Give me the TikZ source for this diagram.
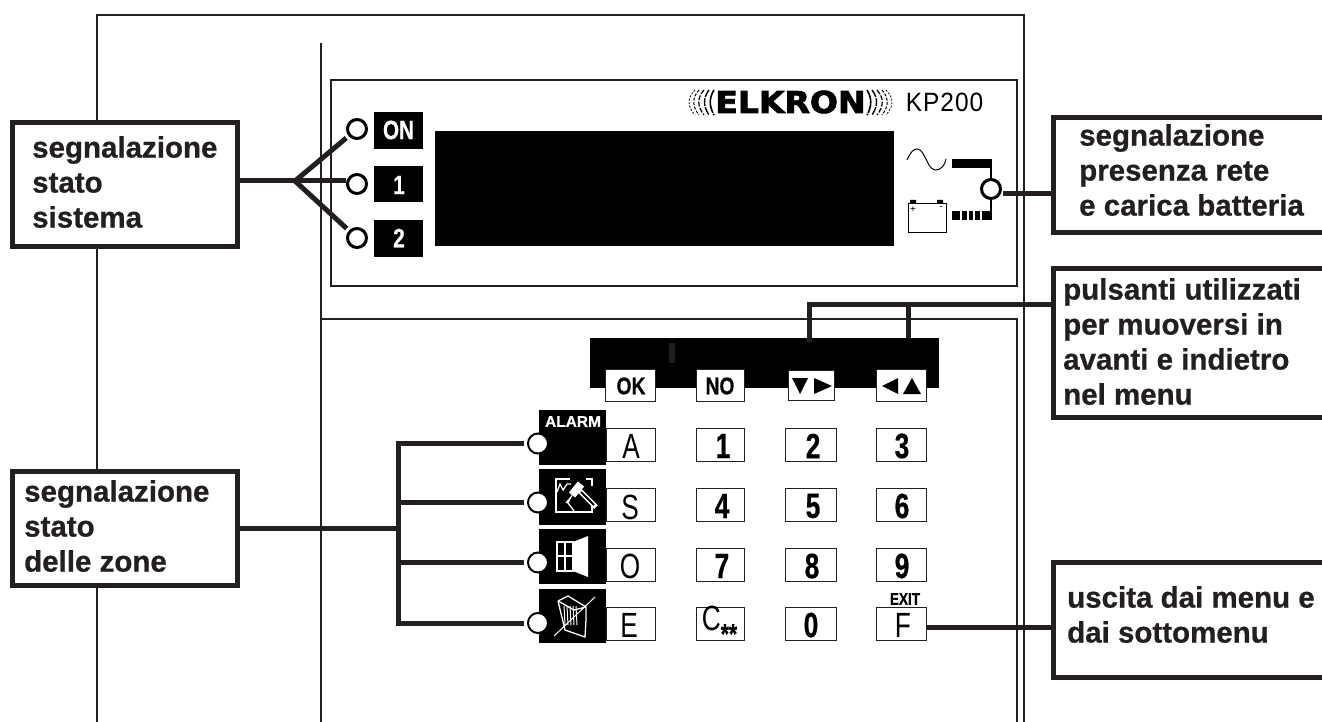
\documentclass[tikz,border=0pt]{standalone}
\usepackage{fontspec}
\setmainfont[BoldFeatures={FakeBold=0.7}]{Liberation Sans}
\newfontfamily\logofont[BoldFeatures={FakeBold=2.6}]{DejaVu Sans}
\newfontfamily\modelfont[LetterSpace=4]{Liberation Sans}
\definecolor{ink}{HTML}{231F20}
\tikzset{
  frameline/.style={ink,line width=1.5pt},
  wire/.style={ink,line width=5pt},
  callbox/.style={draw=ink,fill=white,line width=5pt,inner sep=0pt},
  openbox/.style={fill=white,inner sep=0pt,outer sep=0pt},
  calltext/.style={ink,font=\fontsize{29.5}{35}\selectfont\bfseries,align=left,anchor=north west,inner sep=0pt},
  statled/.style={circle,draw=black,fill=white,line width=3pt,minimum size=19pt,inner sep=0pt},
  zoneled/.style={circle,draw=black,fill=white,line width=2pt,minimum size=20pt,inner sep=0pt},
  blackbox/.style={fill=black,inner sep=0pt,outer sep=0pt},
  keybox/.style={draw=ink,fill=white,line width=1.5pt,inner sep=0pt},
  keybold/.style={black,font=\fontsize{35}{35}\selectfont\bfseries,inner sep=0pt,xscale=.75,transform shape},
  keyplain/.style={black,font=\fontsize{35}{35}\selectfont,inner sep=0pt,xscale=.75,transform shape},
  softlabel/.style={black,font=\fontsize{24}{24}\selectfont\bfseries,inner sep=0pt,xscale=.8,transform shape},
  whitelabel/.style={white,font=\fontsize{26.5}{26.5}\selectfont\bfseries,inner sep=0pt,xscale=.78,transform shape},
  iconline/.style={white,line width=1.3pt}
}
\begin{document}
\begin{tikzpicture}[x=1pt,y=-1pt]
  \newcommand{\keycap}[5]{\node[keybox,minimum width=#4,minimum height=#5] (#1) at (#2,#3) {};}
  \newcommand{\ripple}[4]{\draw[black,line width=#3,dash pattern=#4] (#1,90) .. controls (#1+#2,98) and (#1+#2,106) .. (#1,115);}
  \useasboundingbox (0,0) rectangle (1322,722);
  \fill[white] (0,0) rectangle (1322,722);
  % Housing and front panels.
  \draw[frameline] (97,722) -- (97,15) -- (1024,15) -- (1024,722);
  \draw[frameline] (321,43) -- (321,722);
  \draw[frameline] (331,80) rectangle (1017,286);
  \draw[frameline] (321,319) -- (1017,319) -- (1017,722);
  % Display row.
  \node[blackbox,minimum width=459,minimum height=115] (display) at (664.5,188.5) {};
  \node[blackbox,minimum width=49,minimum height=37] (onbox) at (398.5,130.5) {};
  \node[blackbox,minimum width=49,minimum height=36] (onebox) at (398.5,184) {};
  \node[blackbox,minimum width=49,minimum height=37] (twobox) at (398.5,238.5) {};
  \node[whitelabel] (ontext) at (398.5,130) {ON};
  \node[whitelabel] (onetext) at (399,185) {1};
  \node[whitelabel] (twotext) at (399,238) {2};
  \node[statled] (ledon) at (357,129) {};
  \node[statled] (ledone) at (357,184) {};
  \node[statled] (ledtwo) at (357,238) {};
  % Logo and model.
  \node[black,font=\logofont\fontsize{30}{30}\selectfont\bfseries,inner sep=0pt,xscale=1.1,transform shape] (logo) at (790.5,102) {ELKRON};
  \ripple{714}{-5}{1.6pt}{on 24pt off 1pt}
  \ripple{709}{-6}{1.4pt}{on 8pt off 1.2pt}
  \ripple{704}{-7}{1.2pt}{on 5pt off 1.5pt}
  \ripple{699}{-7}{1pt}{on 3pt off 1.5pt}
  \ripple{695}{-8}{.8pt}{on 2pt off 1.5pt}
  \ripple{867}{5}{1.6pt}{on 24pt off 1pt}
  \ripple{872}{6}{1.4pt}{on 8pt off 1.2pt}
  \ripple{877}{7}{1.2pt}{on 5pt off 1.5pt}
  \ripple{882}{7}{1pt}{on 3pt off 1.5pt}
  \ripple{886}{8}{.8pt}{on 2pt off 1.5pt}
  \node[black,font=\modelfont\fontsize{24.5}{24.5}\selectfont,inner sep=0pt,yscale=1.08,transform shape] (model) at (944.5,102.5) {KP200};
  % Mains and battery symbols.
  \draw[black,line width=1pt] (907,160) .. controls (911,151) and (914,149) .. (917,149) .. controls (922,149) and (924,156) .. (927,161) .. controls (930,168) and (933,170) .. (936,170) .. controls (941,170) and (945,165) .. (946,159);
  \fill[black] (952,159) rectangle (991,168);
  \fill[black] (952,211) rectangle (991,220);
  \foreach \gapx in {961,968,974,981} \draw[white,line width=1.3pt] (\gapx,211) -- (\gapx,220);
  \draw[frameline,black] (991,159) -- (991,220);
  \draw[black,line width=1pt,fill=white] (908,204) rectangle (946,232);
  \fill[black] (910,200) rectangle (916,204) (937,200) rectangle (943,204);
  \node[black,font=\fontsize{10}{10}\selectfont,inner sep=0pt] (plus) at (913,210) {+};
  \node[black,font=\fontsize{10}{10}\selectfont,inner sep=0pt] (minus) at (941,208) {-};
  \node[statled] (ledmain) at (991,189) {};
  % Soft keys.
  \node[blackbox,minimum width=349,minimum height=50] (softbar) at (764.5,363) {};
  \fill[ink] (669,343) rectangle (675,363);
  \keycap{keyok}{630.5}{385.5}{50}{32}
  \keycap{keyno}{720.5}{385.5}{48}{32}
  \keycap{keyfwd}{811.5}{385.5}{46}{30}
  \keycap{keyback}{901.5}{385.5}{50}{32}
  \node[softlabel] (oktext) at (631,386) {OK};
  \node[softlabel] (notext) at (720,386) {NO};
  \fill[black] (792,378) -- (808,378) -- (800,394) -- cycle;
  \fill[black] (814,378) -- (832,386) -- (814,394) -- cycle;
  \fill[black] (882,386) -- (898,378) -- (898,394) -- cycle;
  \fill[black] (903,394) -- (921,394) -- (912,378) -- cycle;
  % Keypad, row by row.
  \keycap{keya}{631}{445}{49}{33} \keycap{keyone}{720.5}{445}{48}{33} \keycap{keytwo}{811}{445}{51}{33} \keycap{keythree}{901.5}{445}{50}{33}
  \keycap{keys}{631}{505}{49}{33} \keycap{keyfour}{720.5}{505}{48}{33} \keycap{keyfive}{811}{505}{51}{33} \keycap{keysix}{901.5}{505}{50}{33}
  \keycap{keyo}{631}{565}{49}{33} \keycap{keyseven}{720.5}{565}{48}{33} \keycap{keyeight}{811}{565}{51}{33} \keycap{keynine}{901.5}{565}{50}{33}
  \keycap{keye}{631}{624}{49}{33} \keycap{keyc}{720.5}{624}{48}{33} \keycap{keyzero}{811}{624}{51}{33} \keycap{keyf}{901.5}{624}{50}{33}
  \node[keyplain] (atext) at (631,446) {A};
  \node[keybold] (onetxt) at (723,446) {1};
  \node[keybold] (twotxt) at (813,446) {2};
  \node[keybold] (threetxt) at (902,446) {3};
  \node[keyplain] (stext) at (630,507) {S};
  \node[keybold] (fourtxt) at (722,506) {4};
  \node[keybold] (fivetxt) at (813,506) {5};
  \node[keybold] (sixtxt) at (902,506) {6};
  \node[keyplain] (otext) at (630,566) {O};
  \node[keybold] (seventxt) at (722,566) {7};
  \node[keybold] (eighttxt) at (812,566) {8};
  \node[keybold] (ninetxt) at (902,566) {9};
  \node[keyplain] (etext) at (629,625) {E};
  \node[keyplain] (ctext) at (719.5,625) {C\raisebox{-12.5pt}{\fontsize{28}{28}\selectfont\bfseries **}};
  \node[keybold] (zerotxt) at (811,625) {0};
  \node[keyplain] (ftext) at (903,625) {F};
  \node[softlabel,font=\fontsize{17}{17}\selectfont\bfseries] (exittext) at (905,599) {EXIT};
  % Zone icons.
  \node[blackbox,minimum width=67,minimum height=55] (iconalarm) at (572.5,437.5) {};
  \node[blackbox,minimum width=67,minimum height=56] (iconhouse) at (572.5,497) {};
  \node[blackbox,minimum width=67,minimum height=55] (iconwindow) at (572.5,556.5) {};
  \node[blackbox,minimum width=67,minimum height=54] (iconbasket) at (572.5,616) {};
  \node[white,font=\fontsize{15.5}{15.5}\selectfont\bfseries,inner sep=0pt] (alarmtext) at (573,421.5) {ALARM};
  % House with hammer.
  \draw[iconline] (570,479) -- (556,479) -- (556,512) -- (592,512) -- (592,500);
  \draw[iconline] (586,479) -- (592,479) -- (592,486);
  \draw[iconline] (557,492) -- (560,484) -- (563,490) -- (567,484) -- (571,484);
  \draw[iconline] (566,503) -- (571,497) -- (568,503) -- (574,511);
  \draw[white,line width=8pt] (572,495) -- (581,484);
  \draw[white,line width=5pt] (578,489) -- (596,507);
  \draw[black,line width=2pt] (581,492) -- (594,505);
  % Window and door.
  \draw[iconline] (557,542) rectangle (573,571) (565,542) -- (565,571) (557,556) -- (573,556);
  \fill[white] (573,542) -- (588,536) -- (588,577) -- (573,571) -- cycle;
  % Basket, crossed out.
  \draw[iconline] (558,601) -- (568,596) -- (586,607) -- (586,620) -- (585,637) -- (565,630) -- (558,601);
  \draw[iconline] (558,601) -- (574,610) -- (586,607);
  \foreach \stripe in {564,567,570,573,576} \draw[white,line width=1pt] (\stripe,606) -- (\stripe+1,625);
  \draw[iconline,line width=1pt] (595,597) -- (554,636);
  \node[zoneled] (leda) at (538,443.5) {};
  \node[zoneled] (leds) at (538,502.5) {};
  \node[zoneled] (ledo) at (538,562.5) {};
  \node[zoneled] (lede) at (538,623) {};
  % Callouts.
  \node[callbox,minimum width=225,minimum height=124] (sistema) at (125,184.5) {};
  \node[callbox,minimum width=225,minimum height=114] (zone) at (125,528.5) {};
  \node[openbox,minimum width=269,minimum height=114] (rete) at (1187.5,175) {};
  \node[openbox,minimum width=269,minimum height=149] (pulsanti) at (1187.5,343) {};
  \node[openbox,minimum width=269,minimum height=115] (uscita) at (1187.5,620) {};
  \draw[wire] (rete.north east) -- (rete.north west) -- (rete.south west) -- (rete.south east);
  \draw[wire] (pulsanti.north east) -- (pulsanti.north west) -- (pulsanti.south west) -- (pulsanti.south east);
  \draw[wire] (uscita.north east) -- (uscita.north west) -- (uscita.south west) -- (uscita.south east);
  \node[calltext] (sistematext) at (32,136) {segnalazione\\stato\\sistema};
  \node[calltext] (zonetext) at (24,480) {segnalazione\\stato\\delle zone};
  \node[calltext] (retetext) at (1079,124) {segnalazione\\presenza rete\\e carica batteria};
  \node[calltext] (pulsantitext) at (1063,278) {pulsanti utilizzati\\per muoversi in\\avanti e indietro\\nel menu};
  \node[calltext] (uscitatext) at (1067,586) {uscita dai menu e\\dai sottomenu};
  % Connectors.
  \coordinate (sysjoin) at (295,181);
  \coordinate (bus) at (398,528.5);
  \coordinate (tapfwd) at (809,304);
  \coordinate (tapback) at (908,304);
  \coordinate (dropfwd) at (809,342);
  \coordinate (dropback) at (908,338);
  \coordinate (mainout) at (1003,194);
  \coordinate (exitout) at (927,627);
  \draw[wire] (sistema.east |- sysjoin) -- (sysjoin);
  \draw[wire,shorten >=3pt] (sysjoin) -- (ledon);
  \draw[wire] (sysjoin) -- (sysjoin -| ledone.west);
  \draw[wire,shorten >=3pt] (sysjoin) -- (ledtwo);
  \draw[wire] (zone.east) -- (bus);
  \draw[wire,line cap=rect] (leda.west -| bus) -- (lede.west -| bus);
  \draw[wire,shorten >=3pt] (leda.west -| bus) -- (leda.west);
  \draw[wire,shorten >=3pt] (leds.west -| bus) -- (leds.west);
  \draw[wire,shorten >=3pt] (ledo.west -| bus) -- (ledo.west);
  \draw[wire,shorten >=3pt] (lede.west -| bus) -- (lede.west);
  \draw[wire] (mainout) -- (rete.west |- mainout);
  \draw[wire,line cap=rect] (tapfwd) -- (pulsanti.west |- tapfwd);
  \draw[wire] (tapfwd) -- (dropfwd);
  \draw[wire] (tapback) -- (dropback);
  \draw[wire] (exitout) -- (uscita.west |- exitout);
\end{tikzpicture}
\end{document}
